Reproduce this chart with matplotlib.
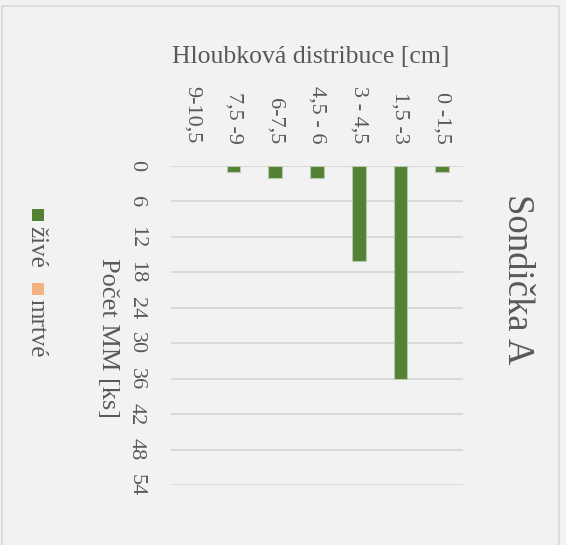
import matplotlib
matplotlib.use("Agg")
import matplotlib.pyplot as plt
from matplotlib.patches import Rectangle

# data
categories = ["0 -1,5", "1,5 -3", "3 - 4,5", "4,5 - 6", "6-7,5", "7,5 -9", "9-10,5"]
zive = [1, 36, 16, 2, 2, 1, 0]
mrtve = [0, 0, 0, 0, 0, 0, 0]
y_ticks = [0, 6, 12, 18, 24, 30, 36, 42, 48, 54]

W, H = 566, 545
BG = '#f2f2f2'
TXT = '#595959'
GREEN = '#548235'
ORANGE = '#f4b183'
GRID = '#d9d9d9'

plt.rcParams['font.family'] = ['Liberation Serif', 'DejaVu Serif']


def fx(px):
    return px / W


def fy(py):
    return 1 - py / H


fig = plt.figure(figsize=(W / 100, H / 100), dpi=100, facecolor=BG)

# ramecek grafu
fig.patches.append(Rectangle((fx(1.5), fy(600)), fx(557.5), fy(6) - fy(600),
                             transform=fig.transFigure, facecolor='none',
                             edgecolor=GRID, linewidth=1.2))

# plot area
ax = fig.add_axes([fx(171), fy(485), fx(463) - fx(171), fy(166) - fy(485)])
ax.set_facecolor(BG)

x = list(range(len(categories)))
edge_w = [0.8 if v > 0 else 0 for v in zive]
ax.bar(x, zive, width=0.33, color=GREEN, edgecolor='#b9c9ad', linewidth=edge_w, zorder=3)
ax.bar(x, mrtve, width=0.33, color=ORANGE, linewidth=0, zorder=3)

ax.set_xlim(6.5, -0.5)
ax.set_ylim(54, 0)
ax.set_yticks(y_ticks)
ax.yaxis.grid(True, color=GRID, linewidth=1.4, zorder=0)
ax.set_axisbelow(True)
for s in ax.spines.values():
    s.set_visible(False)

ax.xaxis.tick_top()
ax.set_xticks(x)
ax.set_xticklabels(categories, rotation=-90, fontsize=16, color=TXT)
ax.tick_params(axis='x', length=0, pad=16)
for lab in ax.get_xticklabels():
    lab.set_verticalalignment('bottom')
    lab.set_horizontalalignment('center')

ax.set_yticklabels([str(v) for v in y_ticks], rotation=-90, fontsize=16, color=TXT)
ax.tick_params(axis='y', length=0, pad=18)
for lab in ax.get_yticklabels():
    lab.set_verticalalignment('center')
    lab.set_horizontalalignment('right')

# titulky
fig.text(fx(311), fy(57), 'Hloubková distribuce [cm]', fontsize=18.5, color=TXT,
         ha='center', va='center')
fig.text(fx(108), fy(338), 'Počet MM [ks]', fontsize=19, color=TXT,
         rotation=-90, ha='center', va='center')
fig.text(fx(517), fy(279), 'Sondička A', fontsize=26.5, color=TXT,
         rotation=-90, ha='center', va='center')

# legenda (otocena)
fig.patches.append(Rectangle((fx(31.5), fy(221.5)), fx(12), fy(209.5) - fy(221.5),
                             transform=fig.transFigure, facecolor=GREEN, edgecolor='none'))
fig.text(fx(36), fy(247), 'živé', fontsize=18, color=TXT, rotation=-90,
         ha='center', va='center')
fig.patches.append(Rectangle((fx(31.5), fy(295)), fx(12), fy(283) - fy(295),
                             transform=fig.transFigure, facecolor=ORANGE, edgecolor='none'))
fig.text(fx(36), fy(328), 'mrtvé', fontsize=18, color=TXT, rotation=-90,
         ha='center', va='center')

fig.savefig('out.png', dpi=100, facecolor=BG)
